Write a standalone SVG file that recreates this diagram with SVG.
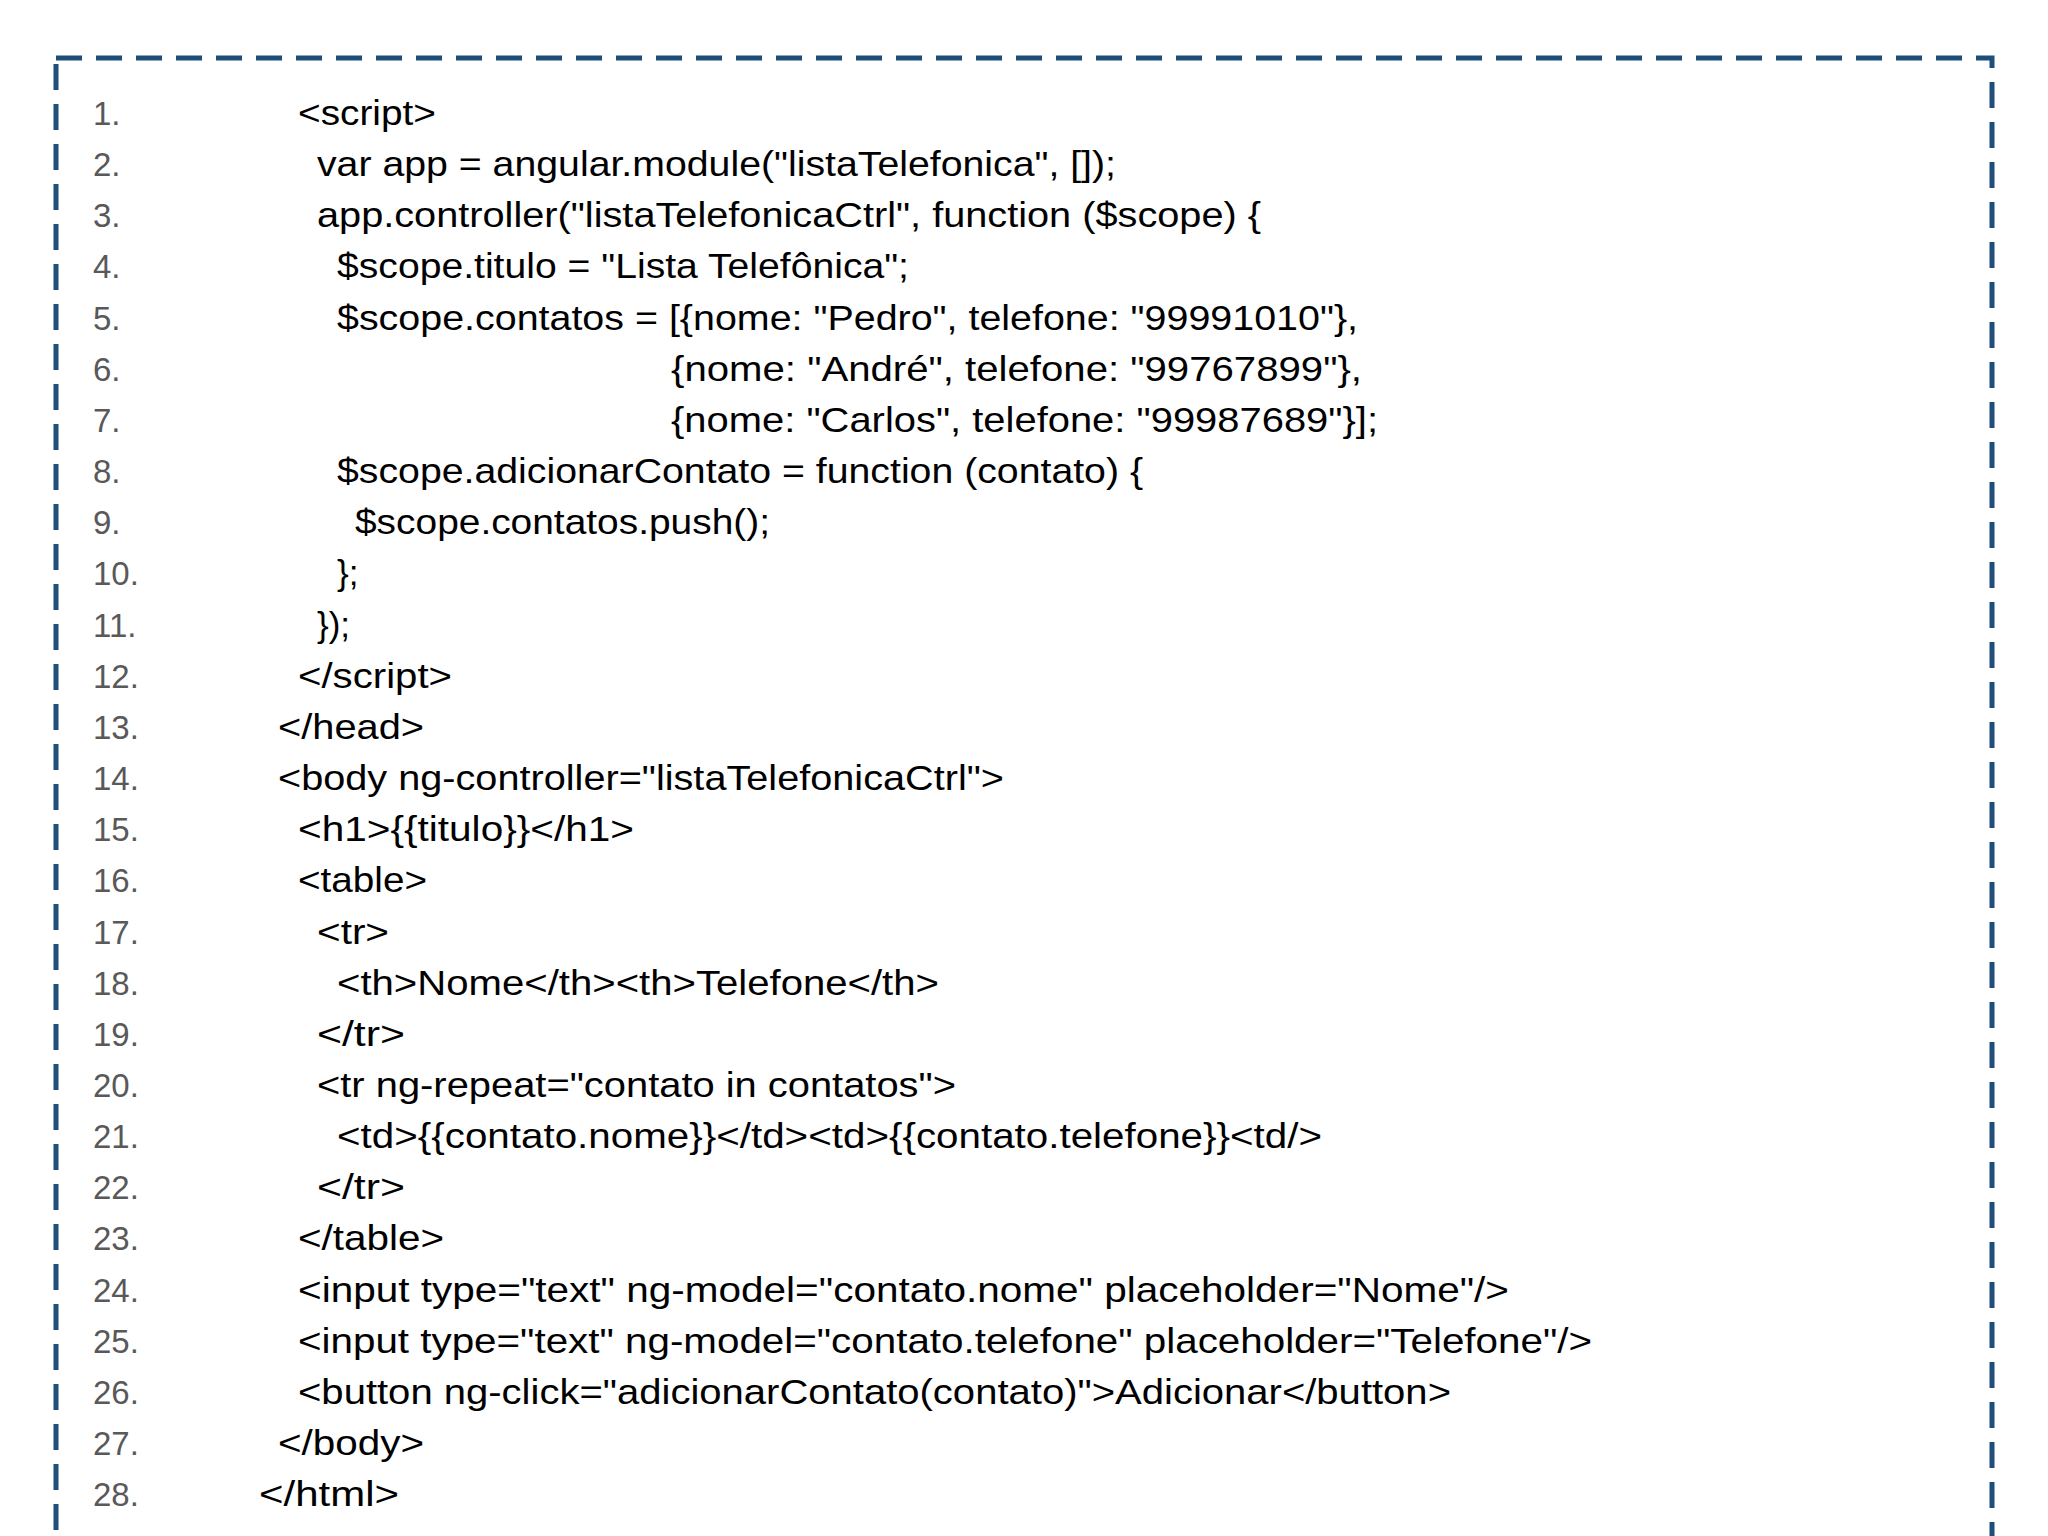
<svg xmlns="http://www.w3.org/2000/svg" width="2048" height="1536" viewBox="0 0 2048 1536">
<style>
.n{font-family:"Liberation Sans",Arial,sans-serif;font-size:33px;fill:#595959}
.c{font-family:"Liberation Sans",Arial,sans-serif;font-size:35px;fill:#000}
</style>
<rect width="2048" height="1536" fill="#fff"/>
<g id="frame"><rect x="56" y="58" width="1936" height="1560" fill="none" stroke="#1f4e79" stroke-width="5" stroke-dasharray="26 14"/></g>
<g id="numbers" class="n">
<text x="93" y="125">1.</text><text x="93" y="176">2.</text><text x="93" y="227">3.</text><text x="93" y="278">4.</text><text x="93" y="330">5.</text><text x="93" y="381">6.</text><text x="93" y="432">7.</text><text x="93" y="483">8.</text><text x="93" y="534">9.</text><text x="93" y="585">10.</text><text x="93" y="637">11.</text><text x="93" y="688">12.</text><text x="93" y="739">13.</text><text x="93" y="790">14.</text><text x="93" y="841">15.</text><text x="93" y="892">16.</text><text x="93" y="944">17.</text><text x="93" y="995">18.</text><text x="93" y="1046">19.</text><text x="93" y="1097">20.</text><text x="93" y="1148">21.</text><text x="93" y="1199">22.</text><text x="93" y="1250">23.</text><text x="93" y="1302">24.</text><text x="93" y="1353">25.</text><text x="93" y="1404">26.</text><text x="93" y="1455">27.</text><text x="93" y="1506">28.</text>
</g>
<g id="code" class="c" lengthAdjust="spacingAndGlyphs">
<text x="298" y="125" textLength="138" lengthAdjust="spacingAndGlyphs">&lt;script&gt;</text>
<text x="317" y="176" textLength="799" lengthAdjust="spacingAndGlyphs">var app = angular.module("listaTelefonica", []);</text>
<text x="317" y="227" textLength="944" lengthAdjust="spacingAndGlyphs">app.controller("listaTelefonicaCtrl", function ($scope) {</text>
<text x="337" y="278" textLength="572" lengthAdjust="spacingAndGlyphs">$scope.titulo = "Lista Telefônica";</text>
<text x="337" y="330" textLength="1021" lengthAdjust="spacingAndGlyphs">$scope.contatos = [{nome: "Pedro", telefone: "99991010"},</text>
<text x="671" y="381" textLength="691" lengthAdjust="spacingAndGlyphs">{nome: "André", telefone: "99767899"},</text>
<text x="671" y="432" textLength="707" lengthAdjust="spacingAndGlyphs">{nome: "Carlos", telefone: "99987689"}];</text>
<text x="337" y="483" textLength="806" lengthAdjust="spacingAndGlyphs">$scope.adicionarContato = function (contato) {</text>
<text x="355" y="534" textLength="415" lengthAdjust="spacingAndGlyphs">$scope.contatos.push();</text>
<text x="337" y="585">};</text>
<text x="317" y="637">});</text>
<text x="298" y="688" textLength="154" lengthAdjust="spacingAndGlyphs">&lt;/script&gt;</text>
<text x="278" y="739" textLength="146" lengthAdjust="spacingAndGlyphs">&lt;/head&gt;</text>
<text x="278" y="790" textLength="726" lengthAdjust="spacingAndGlyphs">&lt;body ng-controller="listaTelefonicaCtrl"&gt;</text>
<text x="298" y="841" textLength="336" lengthAdjust="spacingAndGlyphs">&lt;h1&gt;{{titulo}}&lt;/h1&gt;</text>
<text x="298" y="892" textLength="129" lengthAdjust="spacingAndGlyphs">&lt;table&gt;</text>
<text x="317" y="944" textLength="72" lengthAdjust="spacingAndGlyphs">&lt;tr&gt;</text>
<text x="337" y="995" textLength="602" lengthAdjust="spacingAndGlyphs">&lt;th&gt;Nome&lt;/th&gt;&lt;th&gt;Telefone&lt;/th&gt;</text>
<text x="317" y="1046" textLength="88" lengthAdjust="spacingAndGlyphs">&lt;/tr&gt;</text>
<text x="317" y="1097" textLength="639" lengthAdjust="spacingAndGlyphs">&lt;tr ng-repeat="contato in contatos"&gt;</text>
<text x="337" y="1148" textLength="985" lengthAdjust="spacingAndGlyphs">&lt;td&gt;{{contato.nome}}&lt;/td&gt;&lt;td&gt;{{contato.telefone}}&lt;td/&gt;</text>
<text x="317" y="1199" textLength="88" lengthAdjust="spacingAndGlyphs">&lt;/tr&gt;</text>
<text x="298" y="1250" textLength="146" lengthAdjust="spacingAndGlyphs">&lt;/table&gt;</text>
<text x="298" y="1302" textLength="1211" lengthAdjust="spacingAndGlyphs">&lt;input type="text" ng-model="contato.nome" placeholder="Nome"/&gt;</text>
<text x="298" y="1353" textLength="1294" lengthAdjust="spacingAndGlyphs">&lt;input type="text" ng-model="contato.telefone" placeholder="Telefone"/&gt;</text>
<text x="298" y="1404" textLength="1153" lengthAdjust="spacingAndGlyphs">&lt;button ng-click="adicionarContato(contato)"&gt;Adicionar&lt;/button&gt;</text>
<text x="278" y="1455" textLength="146" lengthAdjust="spacingAndGlyphs">&lt;/body&gt;</text>
<text x="259" y="1506" textLength="140" lengthAdjust="spacingAndGlyphs">&lt;/html&gt;</text>
</g>
</svg>
